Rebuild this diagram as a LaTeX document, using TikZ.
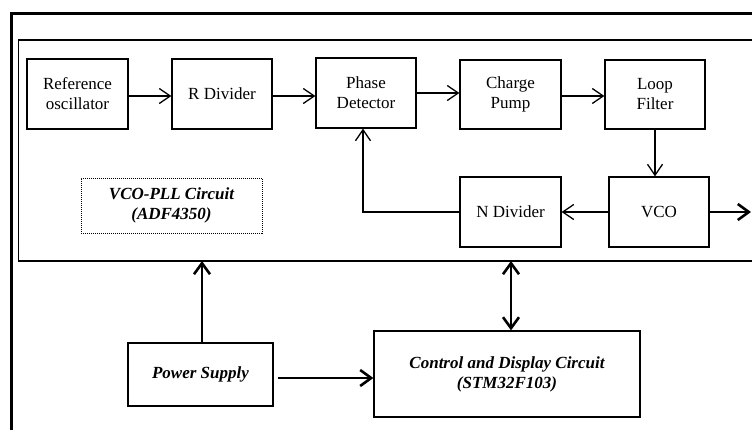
\documentclass[tikz,border=0pt]{standalone}
\usepackage{fontspec}
\setmainfont{Liberation Serif}
\usetikzlibrary{arrows.meta}
\begin{document}
\begin{tikzpicture}[x=1pt,y=-1pt,
  blk/.style={draw,line width=1.2pt,rectangle,inner sep=0pt,align=center,font=\fontsize{17}{20}\selectfont},
  thin/.style={line width=1.3pt,-{Straight Barb[length=11pt,width=15pt,line width=1.3pt]}},
  thick/.style={line width=2.6pt,-{Straight Barb[length=11pt,width=16pt,line width=2.6pt]}},
  both/.style={line width=2.6pt,{Straight Barb[length=11pt,width=16pt,line width=2.6pt]}-{Straight Barb[length=11pt,width=16pt,line width=2.6pt]}}]
\useasboundingbox (0,0) rectangle (752,429);
\clip (0,0) rectangle (752,429);
\fill[white] (0,0) rectangle (752,429);
% frames
\node[draw,line width=2.2pt,minimum width=770pt,minimum height=440pt,inner sep=0pt] (outer) at (396.5,233.5) {};
\node[draw,line width=1.2pt,minimum width=760pt,minimum height=221pt,inner sep=0pt] (inner) at (398.5,150.5) {};
% blocks
\node[blk,minimum width=101pt,minimum height=70pt] (ref) at (77.5,94) {Reference\\oscillator};
\node[blk,minimum width=100pt,minimum height=70pt] (rdiv) at (222,94) {R Divider};
\node[blk,minimum width=100pt,minimum height=70pt] (pd) at (366,93) {Phase\\Detector};
\node[blk,minimum width=101pt,minimum height=69pt] (cp) at (510.5,94.5) {Charge\\Pump};
\node[blk,minimum width=100pt,minimum height=69pt] (lf) at (655,94.5) {Loop\\Filter};
\node[blk,minimum width=101pt,minimum height=70pt] (ndiv) at (510.5,212) {N Divider};
\node[blk,minimum width=100pt,minimum height=70pt] (vco) at (659,212) {VCO};
\node[blk,line width=0.9pt,dash pattern=on 1pt off 1pt,minimum width=181pt,minimum height=55pt,font=\fontsize{17}{20}\selectfont\bfseries\itshape] (pll) at (171.5,205.5) {VCO-PLL Circuit\\(ADF4350)};
\node[blk,minimum width=145pt,minimum height=63pt,font=\fontsize{17}{20}\selectfont\bfseries\itshape] (power) at (200.5,374.5) {Power Supply};
\node[blk,minimum width=266pt,minimum height=86pt,font=\fontsize{17}{20}\selectfont\bfseries\itshape] (ctrl) at (507,374) {Control and Display Circuit\\(STM32F103)};
% coordinates
\coordinate (fb) at (363,212);
\coordinate (out) at (751,212);
\coordinate (pin) at (202,261);
\coordinate (cin) at (511,261);
% connectors
\draw[thin] (ref.east |- 0,96) -- (rdiv.west |- 0,96);
\draw[thin] (rdiv.east |- 0,96) -- (pd.west |- 0,96);
\draw[thin] (pd.east |- 0,93) -- (cp.west |- 0,93);
\draw[thin] (cp.east |- 0,96) -- (lf.west |- 0,96);
\draw[thin] (lf.south) -- (lf.south |- vco.north);
\draw[thin] (vco.west) -- (ndiv.east);
\draw[thin] (ndiv.west) -- (fb) -- (fb |- pd.south);
\draw[thick] (vco.east) -- (out);
\draw[thick] (pin |- power.north) -- (pin);
\draw[thick,shorten <=4pt] (power.east |- 0,378) -- (ctrl.west |- 0,378);
\draw[both] (cin |- ctrl.north) -- (cin);
\end{tikzpicture}
\end{document}
